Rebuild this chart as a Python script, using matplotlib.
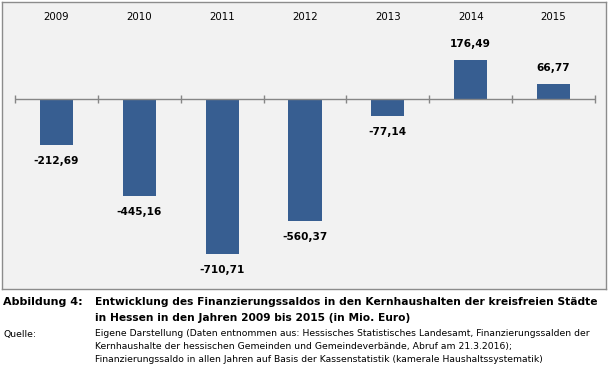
import numpy as np
import matplotlib.pyplot as plt

years = ["2009", "2010", "2011", "2012", "2013", "2014", "2015"]
saldo = [-212.69, -445.16, -710.71, -560.37, -77.14, 176.49, 66.77]
labels = ["-212,69", "-445,16", "-710,71", "-560,37", "-77,14", "176,49", "66,77"]

title_head = "Abbildung 4:"
title_lines = ["Entwicklung des Finanzierungssaldos in den Kernhaushalten der kreisfreien Städte",
               "in Hessen in den Jahren 2009 bis 2015 (in Mio. Euro)"]
source_head = "Quelle:"
source_lines = ["Eigene Darstellung (Daten entnommen aus: Hessisches Statistisches Landesamt, Finanzierungssalden der",
                "Kernhaushalte der hessischen Gemeinden und Gemeindeverbände, Abruf am 21.3.2016);",
                "Finanzierungssaldo in allen Jahren auf Basis der Kassenstatistik (kamerale Haushaltssystematik)"]

W, H = 610, 367
fig = plt.figure(figsize=(W / 100, H / 100), dpi=100)
fig.patch.set_facecolor("white")

# chart box in pixel coords (left, top, right, bottom)
bl, bt, br, bb = 2, 2, 606, 289
ax = fig.add_axes([bl / W, 1 - bb / H, (br - bl) / W, (bb - bt) / H])
ax.set_facecolor("#f2f2f2")
for s in ax.spines.values():
    s.set_color("#8c8c8c")
    s.set_linewidth(1.0)

n = len(years)
x = np.arange(n)
cat_px = (595 - 15) / n
ax.set_xlim(-0.5 - (15 - bl) / cat_px, n - 0.5 + (br - 595) / cat_px)
px_per_unit = 0.2185
zero_px = 99
ax.set_ylim(-(bb - zero_px) / px_per_unit, (zero_px - bt) / px_per_unit)
ax.set_xticks([])
ax.set_yticks([])

ax.bar(x, saldo, width=0.4, color="#375e91", zorder=2)

# baseline with cross tick marks at category boundaries
ax.hlines(0, -0.5, n - 0.5, color="#868686", linewidth=1.0, zorder=3)
tick_h = 4 / px_per_unit
ax.vlines(np.arange(n + 1) - 0.5, -tick_h, tick_h, color="#868686", linewidth=1.0, zorder=3)

for i, (v, lab) in enumerate(zip(saldo, labels)):
    off = 11.5 if v > 0 else -11.5
    ax.annotate(lab, (i, v), xytext=(0, off), textcoords="offset points",
                ha="center", va="center", fontsize=7.6, fontweight="bold", color="black")

for i, yr in enumerate(years):
    ax.text(i, 1 - (17 - bt) / (bb - bt), yr, transform=ax.get_xaxis_transform(),
            ha="center", va="center", fontsize=7.4, color="black")

# caption
def fy(py):
    return 1 - py / H

fig.text(3 / W, fy(302), title_head, fontsize=8.0, fontweight="bold", va="center", ha="left")
for k, line in enumerate(title_lines):
    fig.text(95 / W, fy(302 + 16 * k), line, fontsize=7.65, fontweight="bold",
             va="center", ha="left")
fig.text(3 / W, fy(334), source_head, fontsize=6.7, va="center", ha="left")
for k, line in enumerate(source_lines):
    fig.text(95 / W, fy(334 + 12.5 * k), line, fontsize=6.7, va="center", ha="left")

fig.savefig("out.png", dpi=100)
plt.close(fig)
